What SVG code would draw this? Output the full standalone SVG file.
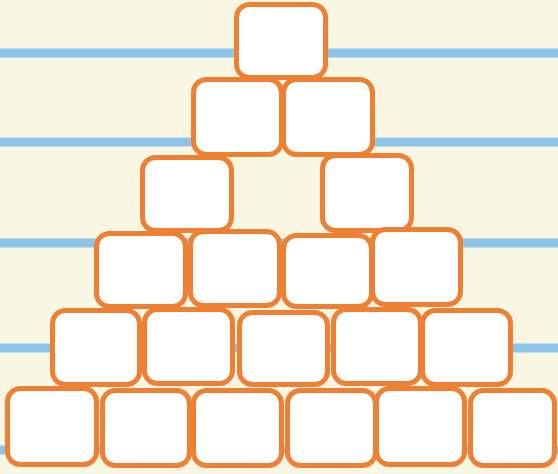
<svg xmlns="http://www.w3.org/2000/svg" width="558" height="474" viewBox="0 0 558 474">
<style>
.line{stroke:#8dc5ea;stroke-width:9;fill:none}
.box rect{fill:#ffffff;stroke:#ee8034;stroke-width:5}
</style>
<rect x="0" y="0" width="558" height="474" fill="#f9f7e4"/>
<g id="lines">
<line class="line" x1="0" y1="53" x2="558" y2="53"/>
<line class="line" x1="0" y1="142" x2="558" y2="142"/>
<line class="line" x1="0" y1="243" x2="558" y2="243"/>
<line class="line" x1="0" y1="348" x2="558" y2="348"/>
<line class="line" x1="0" y1="450" x2="558" y2="450"/>
</g>
<g id="row1" class="box">
<rect id="b1" x="236.5" y="4.5" width="89" height="73" rx="13"/>
</g>
<g id="row2" class="box">
<rect id="b2a" x="193.5" y="79.5" width="88" height="75" rx="13"/>
<rect id="b2b" x="283.5" y="79.5" width="89" height="75" rx="13"/>
</g>
<g id="row3" class="box">
<rect id="b3a" x="142.5" y="157.5" width="89" height="73" rx="13"/>
<rect id="b3b" x="322.5" y="155.5" width="89" height="75" rx="13"/>
</g>
<g id="row4" class="box">
<rect id="b4a" x="96.5" y="233.5" width="89" height="73" rx="13"/>
<rect id="b4b" x="190.5" y="231.5" width="89" height="74" rx="13"/>
<rect id="b4c" x="283.5" y="235.5" width="88" height="71" rx="13"/>
<rect id="b4d" x="372.5" y="229.5" width="88" height="75" rx="13"/>
</g>
<g id="row5" class="box">
<rect id="b5a" x="52.5" y="310.5" width="87" height="74" rx="13"/>
<rect id="b5b" x="144.5" y="309.5" width="88" height="74" rx="13"/>
<rect id="b5c" x="239.5" y="312.5" width="88" height="72" rx="13"/>
<rect id="b5d" x="333.5" y="309.5" width="87" height="74" rx="13"/>
<rect id="b5e" x="422.5" y="310.5" width="88" height="74" rx="13"/>
</g>
<g id="row6" class="box">
<rect id="b6a" x="7.5" y="388.5" width="89" height="76" rx="13"/>
<rect id="b6b" x="102.5" y="390.5" width="87" height="75" rx="13"/>
<rect id="b6c" x="193.5" y="390.5" width="88" height="75" rx="13"/>
<rect id="b6d" x="287.5" y="390.5" width="88" height="75" rx="13"/>
<rect id="b6e" x="376.5" y="388.5" width="88" height="76" rx="13"/>
<rect id="b6f" x="470.5" y="390.5" width="84" height="75" rx="13"/>
</g>
</svg>
